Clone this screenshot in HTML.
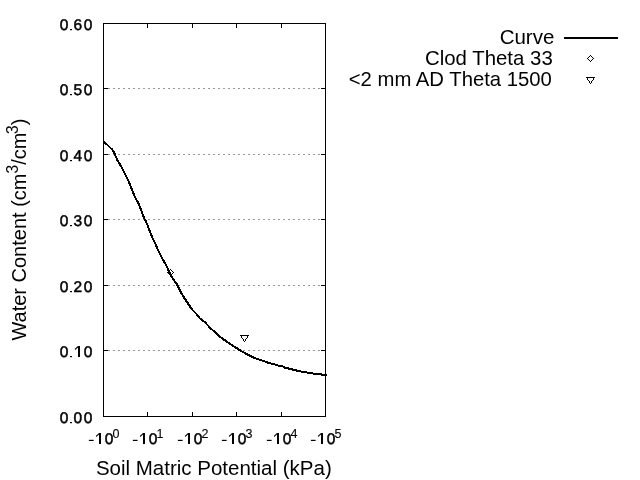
<!DOCTYPE html>
<html><head><meta charset="utf-8"><style>
html,body{margin:0;padding:0;background:#fff;width:640px;height:480px;overflow:hidden}
svg{display:block;will-change:transform}
text{font-family:"Liberation Sans",sans-serif;fill:#000}
.tl{font-size:15.5px;stroke:#000;stroke-width:0.5px;text-rendering:geometricPrecision}
.sup{font-size:12.5px}
.ttl{font-size:20.5px}
</style></head><body>
<svg width="640" height="480" viewBox="0 0 640 480">
<rect x="0" y="0" width="640" height="480" fill="#fff"/>
<g stroke="#999" stroke-width="1" stroke-dasharray="2 3" shape-rendering="crispEdges">
<line x1="103" y1="88.5" x2="325" y2="88.5"/>
<line x1="103" y1="154.5" x2="325" y2="154.5"/>
<line x1="103" y1="219.5" x2="325" y2="219.5"/>
<line x1="103" y1="285.5" x2="325" y2="285.5"/>
<line x1="103" y1="350.5" x2="325" y2="350.5"/>
</g>
<g stroke="#000" stroke-width="1" fill="none" shape-rendering="crispEdges">
<rect x="103.5" y="23.5" width="222" height="393"/>
<path d="M103 88.5h5M103 154.5h5M103 219.5h5M103 285.5h5M103 350.5h5M321 88.5h5M321 154.5h5M321 219.5h5M321 285.5h5M321 350.5h5"/>
<path d="M147.5 412v5M192.5 412v5M236.5 412v5M281.5 412v5M147.5 23v5M192.5 23v5M236.5 23v5M281.5 23v5"/>
</g>
<clipPath id="pc"><rect x="103" y="23" width="224" height="394"/></clipPath>
<polyline clip-path="url(#pc)" points="103.0,141.0 106.0,143.6 108.0,145.5 110.0,147.60 112.0,149.18 114.0,152.54 116.0,157.06 118.0,161.47 120.0,164.38 122.0,168.11 124.0,172.19 126.0,176.24 128.0,180.10 130.0,184.36 132.0,189.75 134.0,194.63 136.0,199.16 138.0,202.40 140.0,207.34 142.0,212.48 144.0,217.75 146.0,221.66 148.0,226.40 150.0,232.02 152.0,236.51 154.0,241.27 156.0,245.06 158.0,250.07 160.0,254.14 162.0,258.26 164.0,261.31 166.0,265.00 168.0,269.23 170.0,273.70 172.0,277.40 174.0,280.22 176.0,282.86 178.0,286.38 180.0,290.29 182.0,294.28 184.0,297.51 186.0,300.53 188.0,303.51 190.0,306.51 192.0,309.54 194.0,311.52 196.0,313.58 198.0,315.58 200.0,318.59 205.0,322.24 210.0,327.74 215.0,332.22 220.0,336.87 225.0,340.31 230.0,343.91 235.0,346.99 239.0,349.68 243.0,351.96 248.0,354.82 253.0,357.27 258.0,359.20 263.0,360.86 268.0,362.64 273.0,363.98 278.0,365.46 284.0,366.64 285.0,367.76 290.0,368.80 295.0,370.20 300.0,371.25 305.0,372.20 310.0,373.00 315.0,373.75 320.0,374.25 323.0,374.75 327.5,375.00" fill="none" stroke="#000" stroke-width="2" shape-rendering="crispEdges"/>
<g fill="none" stroke="#000" stroke-width="1" shape-rendering="crispEdges">
<path d="M170.5 269.5L173.5 272.5L170.5 275.5L167.5 272.5Z"/>
<path d="M240.5 335.5H248.5L244.5 341.5Z"/>
<path d="M590.5 55.5L593.5 58.5L590.5 61.5L587.5 58.5Z"/>
<path d="M586.5 77.5H594.5L590.5 83.5Z"/>
</g>
<rect x="564" y="37" width="54" height="2" fill="#000"/>
<g class="yl">
<text class="tl" x="59.7" y="30">0</text>
<rect x="70" y="29" width="2" height="1.2"/>
<text class="tl" x="73.6" y="30">6</text>
<text class="tl" x="83.7" y="30">0</text>
<text class="tl" x="59.7" y="95">0</text>
<rect x="70" y="94" width="2" height="1.2"/>
<text class="tl" x="73.6" y="95">5</text>
<text class="tl" x="83.7" y="95">0</text>
<text class="tl" x="59.7" y="161">0</text>
<rect x="70" y="160" width="2" height="1.2"/>
<text class="tl" x="73.6" y="161">4</text>
<text class="tl" x="83.7" y="161">0</text>
<text class="tl" x="59.7" y="226">0</text>
<rect x="70" y="225" width="2" height="1.2"/>
<text class="tl" x="73.6" y="226">3</text>
<text class="tl" x="83.7" y="226">0</text>
<text class="tl" x="59.7" y="292">0</text>
<rect x="70" y="291" width="2" height="1.2"/>
<text class="tl" x="73.6" y="292">2</text>
<text class="tl" x="83.7" y="292">0</text>
<text class="tl" x="59.7" y="357">0</text>
<rect x="70" y="356" width="2" height="1.2"/>
<path d="M78 346H80V357H78V347.6L75.2 349.9L74.8 348.8Z"/>
<text class="tl" x="83.7" y="357">0</text>
<text class="tl" x="59.7" y="423">0</text>
<rect x="70" y="422" width="2" height="1.2"/>
<text class="tl" x="73.6" y="423">0</text>
<text class="tl" x="83.7" y="423">0</text>
</g>
<g class="xl">
<rect x="88.9" y="439.8" width="4.7" height="1.2"/>
<path d="M99 433H101V444H99V434.6L96.2 437.1L95.8 436Z"/>
<text class="tl" x="104.7" y="444">0</text>
<text class="sup" x="112.6" y="438" stroke="#000" stroke-width="0.1">0</text>
<rect x="132.9" y="439.8" width="4.7" height="1.2"/>
<path d="M143 433H145V444H143V434.6L140.2 437.1L139.8 436Z"/>
<text class="tl" x="148.7" y="444">0</text>
<text class="sup" x="156.6" y="438" stroke="#000" stroke-width="0.1">1</text>
<rect x="177.9" y="439.8" width="4.7" height="1.2"/>
<path d="M188 433H190V444H188V434.6L185.2 437.1L184.8 436Z"/>
<text class="tl" x="193.7" y="444">0</text>
<text class="sup" x="201.6" y="438" stroke="#000" stroke-width="0.1">2</text>
<rect x="221.9" y="439.8" width="4.7" height="1.2"/>
<path d="M232 433H234V444H232V434.6L229.2 437.1L228.8 436Z"/>
<text class="tl" x="237.7" y="444">0</text>
<text class="sup" x="245.6" y="438" stroke="#000" stroke-width="0.1">3</text>
<rect x="266.9" y="439.8" width="4.7" height="1.2"/>
<path d="M277 433H279V444H277V434.6L274.2 437.1L273.8 436Z"/>
<text class="tl" x="282.7" y="444">0</text>
<text class="sup" x="290.6" y="438" stroke="#000" stroke-width="0.1">4</text>
<rect x="310.9" y="439.8" width="4.7" height="1.2"/>
<path d="M321 433H323V444H321V434.6L318.2 437.1L317.8 436Z"/>
<text class="tl" x="326.7" y="444">0</text>
<text class="sup" x="334.6" y="438" stroke="#000" stroke-width="0.1">5</text>
</g>
<text class="ttl" x="95.9" y="475">Soil Matric Potential (kPa)</text>
<text class="ttl" style="font-size:20px" transform="translate(26,340.6) rotate(-90)">Water Content (cm<tspan style="font-size:15.7px" dy="-8.5">3</tspan><tspan dy="8.5">/cm</tspan><tspan style="font-size:15.7px" dx="-1.5" dy="-8.5">3</tspan><tspan dy="8.5">)</tspan></text>
<g class="ttl">
<text x="499.65" y="44" style="font-size:20.5px">Curve</text>
<text x="425" y="65" style="font-size:20.4px">Clod Theta 33</text>
<text x="348.75" y="86" style="font-size:20.3px">&lt;2 mm AD Theta 1500</text>
</g>
</svg>
</body></html>
